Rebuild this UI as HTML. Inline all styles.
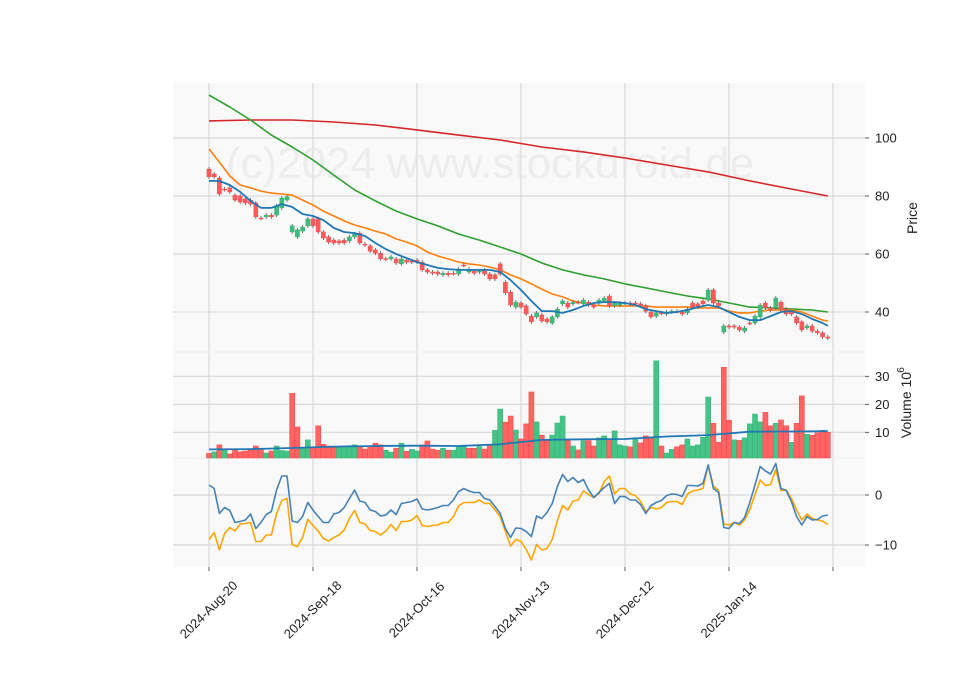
<!DOCTYPE html>
<html><head><meta charset="utf-8"><title>Stock chart</title>
<style>
html,body{margin:0;padding:0;background:#fff;}
svg{display:block;font-family:"Liberation Sans","DejaVu Sans",sans-serif;}
</style></head>
<body>
<svg id="chart" width="960" height="690" viewBox="0 0 960 690" xmlns="http://www.w3.org/2000/svg">
  <rect x="0" y="0" width="960" height="690" fill="#ffffff"/>
  <rect x="173" y="83" width="692" height="269" fill="#f9f9f9"/>
  <rect x="173" y="352" width="692" height="106" fill="#f9f9f9"/>
  <rect x="173" y="458" width="692" height="109" fill="#f9f9f9"/>
  <g id="grid"></g>
  <text x="490" y="178" font-size="44" fill="#e4e4e4" fill-opacity="0.6" text-anchor="middle">(c)2024 www.stockdroid.de</text>
  <g id="marks"></g>
  <g id="axes"></g>
</svg>
<script>
const dates = ["2024-Aug-20","2024-Sep-18","2024-Oct-16","2024-Nov-13","2024-Dec-12","2025-Jan-14"];
const dateIdx = [0,20,40,60,80,100];
const priceTicks = [100,80,60,40];
const volTicks = [10,20,30];
const macdTicks = [0,-10];
const opens = [89.3,87.6,86.2,82.4,82.8,80.3,80,79,78.6,77.6,72.4,72.8,73.4,73.4,75.9,78.6,67.6,65.9,67.9,69.7,
72.1,72.1,67.6,65.9,64.8,64.5,64.8,64.5,65.9,67.2,63.4,62.8,61.4,60.3,58.4,58.3,58.3,56.6,57.9,57.6,
57.9,57.2,54.5,53.8,53.8,52.8,53.4,53.4,53.1,56.2,53.8,54.1,53.8,54.5,53.1,52.8,56.6,50.3,46.9,41.7,
43.1,42.1,38.6,38.3,39,37.6,36.2,38.3,42.8,43.1,42.8,43.4,42.8,43.4,42.4,43.1,43.8,45.5,42.1,42.4,
43,43.1,43.1,42.8,42.1,40,38.6,39.7,39.3,40,40.3,40,39.7,43.1,42.8,43.8,44.1,47.6,43.1,33.1,
35.2,35.2,34.8,33.4,36.2,36.2,38.3,43.1,41.4,41.4,43.4,41,40,38.3,36.6,34.5,35.2,33.4,32.8,31.4];
const closes = [86.6,86.6,80.7,82.2,81.4,78.6,77.9,77.6,77.2,72.8,72.3,73.4,72.8,76.6,79.3,79.7,69.7,68.3,69.3,72.1,
69.7,67.6,65.5,64.1,63.8,63.8,63.8,65.9,66.9,63.8,63.1,61,60.3,58.3,58.3,59,56.9,58.3,57.2,57.2,
57.2,54.5,53.8,53.4,53.1,53.4,52.8,53.3,54.8,56.1,54.8,53.4,54.1,53.1,51.4,51.4,53.1,46.6,42.4,43.4,
41.7,39.3,36.6,39.7,36.9,36.6,38.3,41,43.8,41.7,43.4,43.3,44.1,42.4,41.7,44.1,44.8,42.1,43.1,43.1,
43.1,42.8,42.8,42.1,40.3,38.3,39.7,39.6,40,40.3,40.2,39.3,41,41.7,41.7,42.8,47.6,43.1,42.1,35.2,
34.8,34.8,33.8,34.5,36.1,38.6,42.4,41.4,40.6,44.8,41,39.3,39.3,36.2,33.8,35.2,33.4,32.8,31.4,31];
const volumes = [2.5,3,5.5,3.7,2.3,3.6,3,3.3,3.6,5.1,3.7,2.6,3.3,5.1,3.5,3.3,23.9,11.9,4.3,7.3,
4.5,12.3,5.7,5.1,4.5,4.5,4.5,5.2,5.5,4.8,4,4.6,6.1,5.5,3.6,2.9,4.3,6.1,3.2,3.9,
3.3,5.5,6.9,4,3.6,4.3,3.6,3.6,5.1,5.4,4.3,4.3,4.9,4,5.7,10.7,18.3,13.6,15.8,10.8,
7.6,13,24.4,13.7,9,7,9,13.3,15.8,7,5.1,3.7,7,7,5.1,8,8.7,7.1,10.5,5.5,
5.1,4.8,7.9,6.2,8.7,7.9,35.5,5.1,2.6,3.9,4.8,5.5,7.6,5.1,5.5,8.2,22.6,13.2,6.4,33.2,
14.3,7.3,7.1,8,13,16.5,13.7,17.1,12.3,13.2,14.4,12.3,6.4,13.2,23,9.3,8.9,9.8,10.7,10];
const maFast = [85.2,85.2,83.8,81.4,78.3,75.9,75.9,77.2,76.2,73.8,73.1,71.7,69,67.6,67.2,66.2,63.8,61.7,60,58.6,57.2,56.2,55.2,54.8,54.5,54.5,54.5,54.5,53.8,51,47.6,43.8,40.3,40.3,39.7,40.7,42.1,43.1,43.4,43.4,43.1,42.4,41,40.3,39.7,40,40.7,41.7,42.4,41.7,40,38.3,37.2,37.2,38.6,40,40.3,39.3,37.6,36.2,35.2];
const maMid = [96.2,91.7,86.9,83.8,82.8,81.7,81,80.7,80.3,78.6,76.9,74.8,73.1,71.4,70,69,67.9,66.9,65.2,64.1,62.8,60.7,59.3,58.3,57.2,56.6,56.2,55.5,54.5,52.8,51.4,49.7,47.9,46.2,45.2,43.8,43.1,42.4,42.1,42.1,42.1,42.1,42.1,41.7,41.7,41.7,41.7,41.4,41.4,41.4,40.3,39.7,39.7,40.3,40.7,40.7,40.7,40,38.6,37.2,36.9];
const maSlow = [114.8,110.7,106.2,101,96.9,92.4,87.2,82.1,78.3,74.8,72.1,69.7,66.9,64.8,62.4,60,56.9,54.5,52.8,51.4,49.7,48.3,46.9,45.5,44.5,43.1,41.7,41.4,41,40.7,40];
const maLong = [105.9,106.2,106.2,105.5,104.5,102.8,101,99.3,96.9,95.2,93.1,90.7,88.3,85.2,82.4,80];
const volMA = [3.9,4,4.4,4.9,5.1,5.2,5.1,5.7,7.3,7.5,7.6,8.5,9,10.2,10.3,10.4];
const macdLine = [2,1.3,-3.7,-2.5,-3.1,-5.5,-5.3,-5,-3.8,-6.7,-5.5,-3.9,-3.3,1,3.8,3.8,-5.2,-5.5,-4.3,-1.5,
-3,-4.3,-5.5,-5.5,-3.8,-3.5,-2.5,-0.7,1,-1.2,-1.5,-3,-3.3,-4.2,-4,-3,-3.9,-1.7,-1.5,-1.3,
-0.8,-2.8,-3,-2.8,-2.5,-2.1,-2.1,-1,0.7,1.3,0.8,0.5,0.5,-0.7,-1,-2.3,-3.7,-6.7,-8.5,-6.6,
-6.7,-7.3,-8.3,-4.2,-4.7,-3.5,-1.7,1.7,4.1,2.7,3.5,2.5,3.1,1,-0.5,0.5,1.5,2.3,-1.7,-0.3,
-0.3,-1,-1,-1.9,-3.7,-2.1,-1.5,-1.1,-0.1,0.2,0.1,-0.3,1.9,1.9,1.8,2.3,6,1.3,0.5,-6.5,
-6.7,-5.5,-5.7,-4.5,-1.5,2,5.7,4.8,4.2,6.3,1.3,0.9,-1.3,-4.3,-6,-4.3,-5,-4.9,-4.2,-4];
const signalLine = [-8.9,-7.5,-11,-7.7,-6.5,-7.2,-5.8,-5.7,-5.5,-9.3,-9.3,-8,-8,-3.7,-1.1,-0.7,-9.9,-10.3,-8.5,-4.9,
-6.1,-7.2,-8.7,-9.2,-8.5,-8,-7,-4.7,-3.1,-5.5,-5.8,-7.1,-7.3,-8,-7.2,-5.9,-7.1,-5.3,-5.3,-5,
-4.1,-6.1,-6.3,-6.1,-6,-5.5,-5.5,-4.3,-2.2,-1.5,-1.5,-1.5,-1,-1.7,-1.7,-3,-4.3,-7.3,-10.2,-8.9,
-9.3,-10.9,-13,-9.9,-11,-10.7,-8.9,-5.1,-2.1,-3,-1.2,-1,0.8,0.1,-0.5,0.3,2.7,3.8,0.2,1.3,
1.3,0.2,-0.1,-1.3,-3.3,-2.5,-2.8,-2.5,-1.5,-1.3,-1.3,-1.9,0.2,0.8,1,1.3,6,1.8,0.9,-5.8,
-6,-5.5,-6,-5,-2.9,0.1,3,1.9,2.1,5.1,0.9,1,-0.7,-3,-5,-3.8,-4.7,-5,-5.2,-5.9];

const NS = "http://www.w3.org/2000/svg";
const N = closes.length;
const X0 = 209, DX = 5.2;
function xAt(i){ return X0 + i*DX; }
function yPrice(p){ return 138 + (100 - p)*2.9; }
function yVol(v){ return 460.3 - v*2.8; }
function yMacd(m){ return 495 - m*5; }
function mk(tag, attrs, parent){
  const el = document.createElementNS(NS, tag);
  for (const k in attrs) el.setAttribute(k, attrs[k]);
  parent.appendChild(el);
  return el;
}
const grid = document.getElementById('grid');
const marks = document.getElementById('marks');
const axes = document.getElementById('axes');
const GRID = "#d3d3d3";

const vIdx = dateIdx.concat([120]);
vIdx.forEach(function(i){
  const g = mk('line', {x1:xAt(i), x2:xAt(i), y1:83, y2:567, stroke:GRID, 'stroke-width':1}, grid);
  
  
});
function hgrid(y, name){
  const g = mk('line', {x1:173, x2:865, y1:y, y2:y, stroke:GRID, 'stroke-width':1}, grid);
  
  
}
priceTicks.forEach(function(t){ hgrid(yPrice(t), 'price-gridline'); });
volTicks.forEach(function(t){ hgrid(yVol(t), 'volume-gridline'); });
macdTicks.forEach(function(t){ hgrid(yMacd(t), 'macd-gridline'); });
[352,458].forEach(function(y){
  const s = mk('line', {x1:173, x2:865, y1:y, y2:y, stroke:"#eeeeee", 'stroke-width':1}, grid);
  
  
});

function maPath(arr, step, yf, color, name, width){
  const pts = arr.map(function(v, k){
    const i = Math.min(k*step, N-1);
    return xAt(i).toFixed(1) + ',' + yf(v).toFixed(1);
  });
  const p = mk('polyline', {points:pts.join(' '), fill:'none', stroke:color, 'stroke-width':width, 'stroke-linejoin':'round'}, marks);
  
  
}
maPath(maLong, 8, yPrice, '#d62728', 'ma200-line', 1.6);
maPath(maSlow, 4, yPrice, '#2ca02c', 'ma50-line', 1.6);
maPath(maMid, 2, yPrice, '#ff7f0e', 'ma20-line', 1.6);

const UP = '#3dbd7d', DOWN = '#ff5a5a';
for (let i = 0; i < N; i++){
  const o = opens[i], c = closes[i];
  const up = c >= o;
  const col = up ? UP : DOWN;
  const x = xAt(i);
  const top = yPrice(Math.max(o,c)), bot = yPrice(Math.min(o,c));
  const w = mk('line', {x1:x, x2:x, y1:top-2, y2:bot+2, stroke:'#555', 'stroke-width':0.8}, marks);
  
  
  const b = mk('rect', {x:x-2.1, y:top, width:4.2, height:Math.max(bot-top,1), fill:col, stroke:up?'#2fa86b':'#f04545', 'stroke-width':0.4}, marks);
  
  
}
maPath(maFast, 2, yPrice, '#1f77b4', 'ma10-line', 1.8);

for (let i = 0; i < N; i++){
  const up = i === 0 ? closes[i] >= opens[i] : closes[i] >= closes[i-1];
  const y = Math.max(yVol(volumes[i]), 354);
  const r = mk('rect', {x:xAt(i)-2.5, y:y, width:5, height:458-y, fill:up?'#44c486':'#ff6464', stroke:up?'#3bb77a':'#ff4a4a', 'stroke-width':0.6}, marks);
  
  
}
maPath(volMA, 8, yVol, '#1f77b4', 'volume-ma-line', 1.8);

function seriesPath(arr, color, name){
  const pts = arr.map(function(v, i){ return xAt(i).toFixed(1) + ',' + yMacd(v).toFixed(1); });
  const p = mk('polyline', {points:pts.join(' '), fill:'none', stroke:color, 'stroke-width':1.6, 'stroke-linejoin':'round'}, marks);
  
  
}
seriesPath(signalLine, '#ffa500', 'macd-signal-line');
seriesPath(macdLine, '#4682b4', 'macd-line');

function rtick(y, label, name){
  const t = mk('line', {x1:865, x2:869, y1:y, y2:y, stroke:'#333', 'stroke-width':0.8}, axes);
  
  
  const tx = mk('text', {x:875, y:y+4.5, 'font-size':13, fill:'#222'}, axes);
  tx.textContent = label;
  
  
}
priceTicks.forEach(function(t){ rtick(yPrice(t), String(t), 'price-tick'); });
volTicks.forEach(function(t){ rtick(yVol(t), String(t), 'volume-tick'); });
macdTicks.forEach(function(t){ rtick(yMacd(t), t < 0 ? '\u2212' + Math.abs(t) : String(t), 'macd-tick'); });

dateIdx.forEach(function(i, k){
  const x = xAt(i);
  const t = mk('line', {x1:x, x2:x, y1:567, y2:571, stroke:'#333', 'stroke-width':0.8}, axes);
  
  
  const cx = x, cy = 610;
  const tx = mk('text', {x:cx, y:cy+4, 'font-size':13, fill:'#222', 'text-anchor':'middle', transform:'rotate(-45 ' + cx + ' ' + cy + ')'}, axes);
  tx.textContent = dates[k];
  
  
});
const tEnd = mk('line', {x1:xAt(120), x2:xAt(120), y1:567, y2:571, stroke:'#333', 'stroke-width':0.8}, axes);



const pl = mk('text', {x:917, y:218, 'font-size':14, fill:'#222', 'text-anchor':'middle', transform:'rotate(-90 917 218)'}, axes);
pl.textContent = 'Price';


const vl = mk('text', {x:911, y:405, 'font-size':14, fill:'#222', 'text-anchor':'middle', transform:'rotate(-90 911 405)'}, axes);
vl.textContent = 'Volume  10';


const ve = mk('text', {x:904, y:370, 'font-size':10, fill:'#222', 'text-anchor':'middle', transform:'rotate(-90 904 370)'}, axes);
ve.textContent = '6';


</script>
</body></html>
